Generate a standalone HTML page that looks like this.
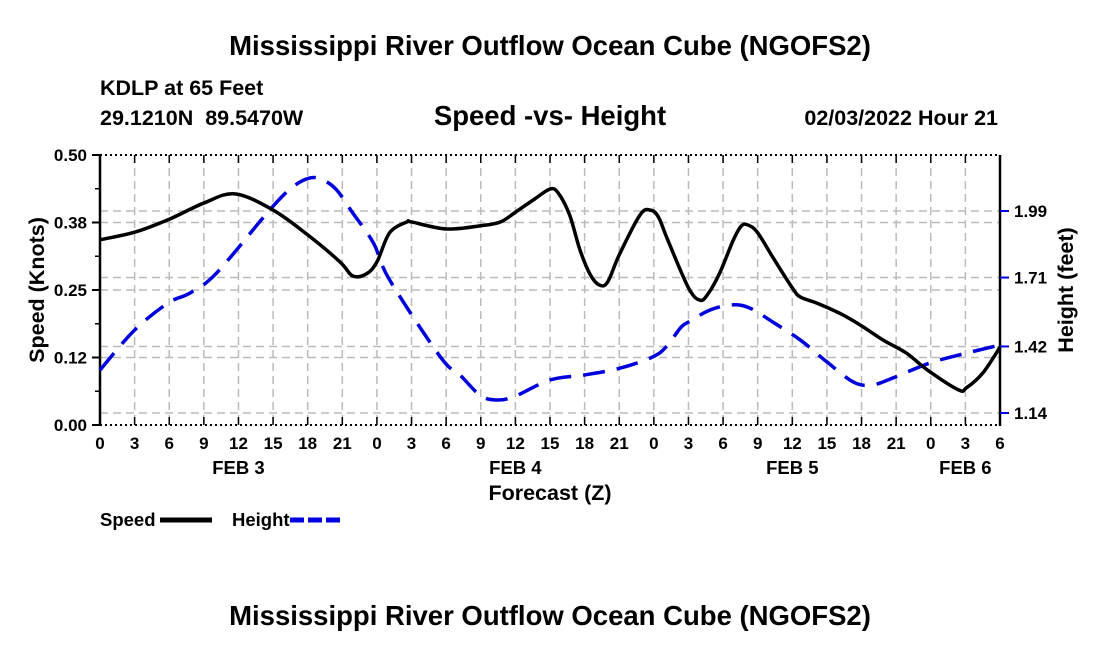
<!DOCTYPE html>
<html><head><meta charset="utf-8"><style>
body{margin:0;background:#fff;}
svg{display:block;font-family:"Liberation Sans",Arial,sans-serif;font-weight:bold;}
</style></head><body>
<svg id="chart" width="1100" height="650" viewBox="0 0 1100 650">
<text x="550" y="55" text-anchor="middle" font-size="27.5">Mississippi River Outflow Ocean Cube (NGOFS2)</text>
<text x="100" y="95" font-size="21.5">KDLP at 65 Feet</text>
<text x="100" y="125" font-size="21.5" xml:space="preserve">29.1210N  89.5470W</text>
<text x="550" y="125" text-anchor="middle" font-size="27.5">Speed -vs- Height</text>
<text x="998" y="125" text-anchor="end" font-size="21.5">02/03/2022 Hour 21</text>
<text transform="translate(44,290) rotate(-90)" text-anchor="middle" font-size="21.5">Speed (Knots)</text>
<text transform="translate(1073,290) rotate(-90)" text-anchor="middle" font-size="21.5">Height (feet)</text>
<text x="550" y="500" text-anchor="middle" font-size="21.5">Forecast (Z)</text>
<g id="grid"></g>
<g id="axes"></g>
<g id="series"></g>
<g>
<text x="100" y="526" font-size="18.5">Speed</text>
<line x1="160" y1="520" x2="212" y2="520" stroke="#000" stroke-width="5"/>
<text x="232" y="526" font-size="18.5">Height</text>
<line x1="290" y1="520" x2="342" y2="520" stroke="#0000dd" stroke-width="5" stroke-dasharray="14,4"/>
</g>
<text x="550" y="625" text-anchor="middle" font-size="27.5">Mississippi River Outflow Ocean Cube (NGOFS2)</text>
</svg>
<script>
const speedHours=[0,3,6,9,11.7,15,18,20.8,21.9,23.1,24,25.1,26.6,27,30,33,34.7,36,37.7,39,39.7,40.7,41.6,42.5,43.3,44,45,46.8,47.7,48.4,49.2,51,52,52.7,53.7,54.9,55.6,56.2,57,58.3,60,60.7,62.1,64.1,65.9,67.9,69.9,71.7,74.4,75.1,76.5,78];
const speedValues=[.343,.357,.381,.411,.428,.398,.352,.302,.276,.280,.302,.356,.376,.376,.363,.369,.376,.394,.419,.437,.430,.389,.324,.278,.259,.265,.315,.389,.398,.385,.343,.254,.231,.243,.281,.343,.369,.370,.356,.311,.254,.237,.226,.207,.185,.157,.133,.102,.065,.069,.096,.144];
const heightHours=[0,3,5.9,7.8,10.1,14.7,16.7,18.2,19.3,20.5,21.9,23.7,25.1,29.5,31.2,32.9,34.2,35.8,39,42,45.1,47.9,49.1,50.3,51,52.9,54.8,56.3,58.3,60.7,63,65.3,66.9,68.7,71.9,75.1,78];
const heightValues=[1.321,1.489,1.603,1.645,1.729,1.994,2.091,2.129,2.121,2.079,1.982,1.855,1.70,1.376,1.30,1.216,1.195,1.207,1.279,1.30,1.329,1.376,1.42,1.498,1.523,1.574,1.595,1.582,1.523,1.447,1.355,1.27,1.258,1.287,1.35,1.392,1.426];
const xTickLabels=["0","3","6","9","12","15","18","21","0","3","6","9","12","15","18","21","0","3","6","9","12","15","18","21","0","3","6"];
const dayLabels=["FEB 3","FEB 4","FEB 5","FEB 6"];
const dayHours=[12,36,60,75];
const speedTicks=[0,0.125,0.25,0.375,0.5];
const speedTickLabels=["0.00","0.12","0.25","0.38","0.50"];
const heightTicks=[1.14,1.42,1.71,1.99];

const L=100,R=1000,T=155,B=425,NS="http://www.w3.org/2000/svg";
const x=h=>L+h*(R-L)/78;
const yS=v=>B-v*(B-T)/0.5;
const hMin=1.14-12/237.6,hMax=1.99+56/237.6;
const yH=v=>B-(v-hMin)*(B-T)/(hMax-hMin);
function mk(tag,attrs,parent){const e=document.createElementNS(NS,tag);for(const k in attrs)e.setAttribute(k,attrs[k]);parent.appendChild(e);return e;}
const grid=document.getElementById('grid'),axes=document.getElementById('axes'),series=document.getElementById('series');
const gs={stroke:"#bbb","stroke-width":1.5,"stroke-dasharray":"8,5"};
for(let i=1;i<xTickLabels.length-1;i++){
 const g=mk('line',Object.assign({x1:x(i*3),x2:x(i*3),y1:T,y2:B},gs),grid);
 
 
}
speedTicks.slice(1,-1).forEach(v=>{
 const g=mk('line',Object.assign({x1:L,x2:R,y1:yS(v),y2:yS(v)},gs),grid);
 
 
});
heightTicks.forEach(v=>{
 const g=mk('line',Object.assign({x1:L,x2:R,y1:yH(v),y2:yH(v)},gs),grid);
 
 
});
let e=mk('line',{x1:L,x2:R,y1:T,y2:T,stroke:"#000","stroke-width":2,"stroke-dasharray":"2,3"},axes);


e=mk('line',{x1:L,x2:R,y1:B,y2:B,stroke:"#000","stroke-width":2,"stroke-dasharray":"2,3"},axes);


e=mk('line',{x1:L,x2:L,y1:T,y2:B+1,stroke:"#000","stroke-width":2.5},axes);


e=mk('line',{x1:R,x2:R,y1:T,y2:B+1,stroke:"#000","stroke-width":2.5},axes);


xTickLabels.forEach((t,i)=>{
 mk('line',{x1:x(i*3),x2:x(i*3),y1:B,y2:B-8,stroke:"#000","stroke-width":1.5},axes);
 mk('line',{x1:x(i*3),x2:x(i*3),y1:T,y2:T+8,stroke:"#000","stroke-width":1.5},axes);
 const tx=mk('text',{x:x(i*3),y:B+24,"text-anchor":"middle","font-size":17},axes);
 tx.textContent=t;
 
 
});
dayLabels.forEach((d,i)=>{
 const tx=mk('text',{x:x(dayHours[i]),y:B+49,"text-anchor":"middle","font-size":18.5},axes);
 tx.textContent=d;
 
 
});
speedTicks.forEach((v,i)=>{
 mk('line',{x1:L-8,x2:L,y1:yS(v),y2:yS(v),stroke:"#000","stroke-width":2},axes);
 if(i<speedTicks.length-1)mk('line',{x1:L-5,x2:L,y1:yS(v+0.0625),y2:yS(v+0.0625),stroke:"#000","stroke-width":1.5},axes);
 const tx=mk('text',{x:L-13,y:yS(v)+6,"text-anchor":"end","font-size":17},axes);
 tx.textContent=speedTickLabels[i];
 
 
});
heightTicks.forEach(v=>{
 mk('line',{x1:R,x2:R+9,y1:yH(v),y2:yH(v),stroke:"#0000dd","stroke-width":2},axes);
 const tx=mk('text',{x:R+14,y:yH(v)+6,"font-size":17},axes);
 tx.textContent=v.toFixed(2);
 
 
});
function smooth(pts){
 let d="M"+pts[0][0]+","+pts[0][1];
 for(let i=0;i<pts.length-1;i++){
  const p0=pts[Math.max(0,i-1)],p1=pts[i],p2=pts[i+1],p3=pts[Math.min(pts.length-1,i+2)];
  const c1=[p1[0]+(p2[0]-p0[0])/6,p1[1]+(p2[1]-p0[1])/6],c2=[p2[0]-(p3[0]-p1[0])/6,p2[1]-(p3[1]-p1[1])/6];
  d+=" C"+c1[0]+","+c1[1]+" "+c2[0]+","+c2[1]+" "+p2[0]+","+p2[1];
 }
 return d;
}
const hp=mk('path',{d:smooth(heightHours.map((h,i)=>[x(h),yH(heightValues[i])])),fill:"none",stroke:"#0000dd","stroke-width":3.5,"stroke-dasharray":"22,12"},series);


const sp=mk('path',{d:smooth(speedHours.map((h,i)=>[x(h),yS(speedValues[i])])),fill:"none",stroke:"#000","stroke-width":3.5},series);


</script>
</body></html>
